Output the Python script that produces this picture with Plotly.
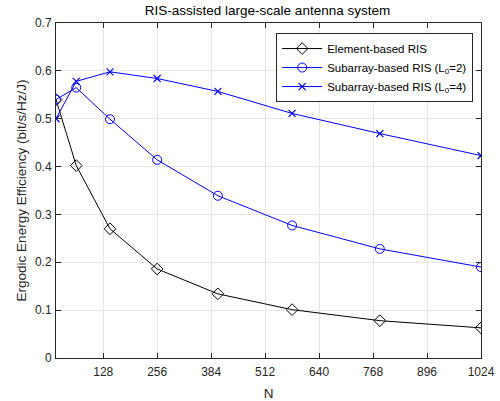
import plotly.graph_objects as go

N = [16, 64, 144, 256, 400, 576, 784, 1024]
ee_element = [0.540, 0.402, 0.270, 0.186, 0.134, 0.101, 0.078, 0.063]
ee_sub2 = [0.540, 0.565, 0.499, 0.414, 0.339, 0.277, 0.228, 0.190]
ee_sub4 = [0.500, 0.578, 0.598, 0.584, 0.557, 0.511, 0.469, 0.423]
x_ticks = [128, 256, 384, 512, 640, 768, 896, 1024]
y_ticks = [0, 0.1, 0.2, 0.3, 0.4, 0.5, 0.6, 0.7]

fig = go.Figure()
fig.add_trace(go.Scatter(x=N, y=ee_element, mode="lines+markers", name="Element-based RIS",
                         line=dict(color="black", width=1),
                         marker=dict(symbol="diamond-open", size=9, color="black", line=dict(width=1))))
fig.add_trace(go.Scatter(x=N, y=ee_sub2, mode="lines+markers", name="Subarray-based RIS (L<sub>0</sub>=2)",
                         line=dict(color="#0000ff", width=1),
                         marker=dict(symbol="circle-open", size=9, color="#0000ff", line=dict(width=1))))
fig.add_trace(go.Scatter(x=N, y=ee_sub4, mode="lines+markers", name="Subarray-based RIS (L<sub>0</sub>=4)",
                         line=dict(color="#0000ff", width=1),
                         marker=dict(symbol="x-thin-open", size=7, color="#0000ff", line=dict(width=1.2, color="#0000ff"))))

axis_common = dict(showline=True, linecolor="#262626", linewidth=1, mirror="ticks",
                   ticks="inside", ticklen=5, tickcolor="#262626",
                   showgrid=True, gridcolor="#e6e6e6", gridwidth=1, zeroline=False,
                   automargin=False,
                   tickfont=dict(size=12, color="#262626"))

fig.update_layout(
    width=500, height=401,
    margin=dict(l=56, r=19, t=23, b=43, autoexpand=False),
    paper_bgcolor="white", plot_bgcolor="white",
    font=dict(family="Liberation Sans, Arial, sans-serif", size=12, color="#262626"),
    title=dict(text="RIS-assisted large-scale antenna system", x=0.535, xanchor="center",
               y=0.975, yanchor="middle", font=dict(size=13.5, color="black"), automargin=False),
    xaxis=dict(range=[16, 1024], tickvals=x_ticks, ticklabelstandoff=3,
               title=dict(text="N", standoff=10, font=dict(size=13.5)), **axis_common),
    yaxis=dict(range=[0, 0.7], tickvals=y_ticks, ticktext=["0", "0.1", "0.2", "0.3", "0.4", "0.5", "0.6", "0.7"],
               ticklabelstandoff=1,
               title=dict(text="Ergodic Energy Efficiency (bit/s/Hz/J)", standoff=5, font=dict(size=13.5)),
               **axis_common),
    legend=dict(x=0.518, y=0.97, xanchor="left", yanchor="top", bgcolor="white",
                bordercolor="#262626", borderwidth=1, font=dict(size=11.5, color="black"),
                tracegroupgap=0, itemwidth=40),
    showlegend=True,
)

fig.write_html("out.html")
